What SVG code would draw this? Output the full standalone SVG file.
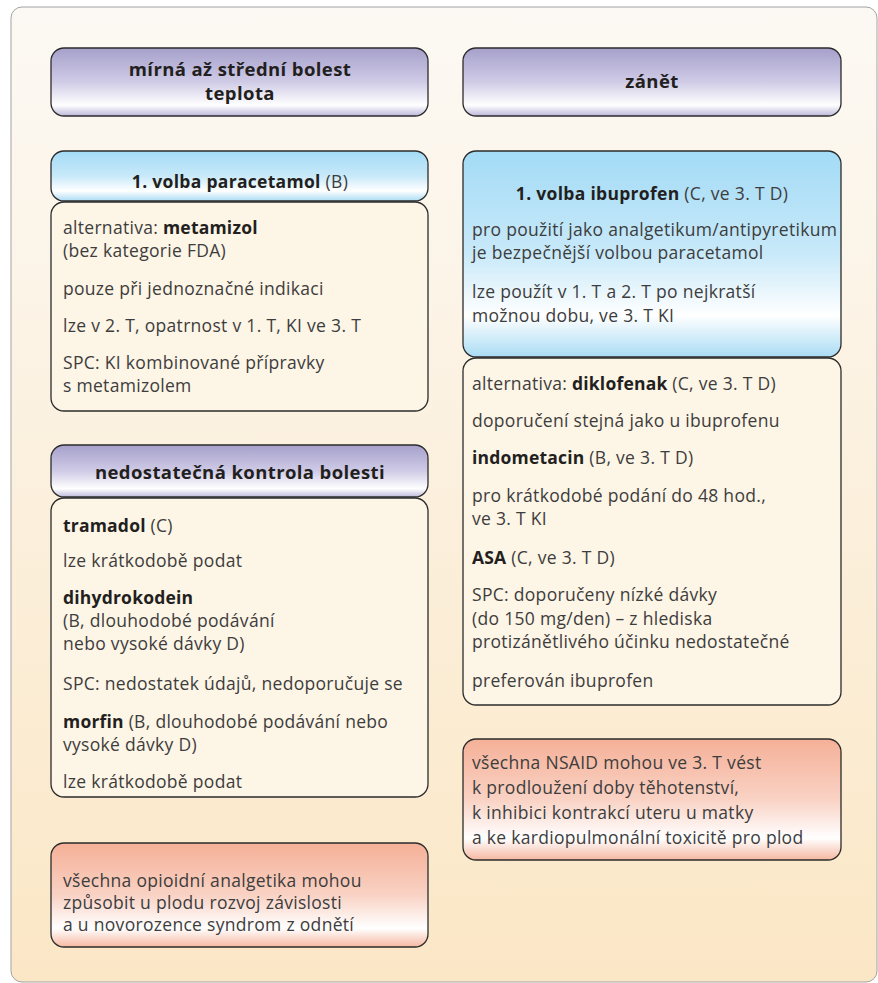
<svg xmlns="http://www.w3.org/2000/svg" width="878" height="983" viewBox="0 0 878 983">
<defs>
<linearGradient id="gBg" x1="0" y1="0" x2="0" y2="1">
<stop offset="0" stop-color="#fcf9f4"/><stop offset="1" stop-color="#fbe7c6"/>
</linearGradient>
<linearGradient id="gPur" x1="0" y1="0" x2="0" y2="1">
<stop offset="0" stop-color="#a6a0cb"/><stop offset="0.5" stop-color="#cfcbe6"/><stop offset="0.84" stop-color="#ffffff"/><stop offset="1" stop-color="#bdb8da"/>
</linearGradient>
<linearGradient id="gBlue" x1="0" y1="0" x2="0" y2="1">
<stop offset="0" stop-color="#a3dbf6"/><stop offset="0.5" stop-color="#c8e9f9"/><stop offset="0.8" stop-color="#ffffff"/><stop offset="1" stop-color="#a9dcf4"/>
</linearGradient>
<linearGradient id="gRed" x1="0" y1="0" x2="0" y2="1">
<stop offset="0" stop-color="#f5b097"/><stop offset="0.5" stop-color="#f9d2c4"/><stop offset="0.82" stop-color="#ffffff"/><stop offset="1" stop-color="#f6b8a1"/>
</linearGradient>
</defs>
<style>
.box{stroke:#2b2b2b;stroke-width:1.3}
.body{fill:#fdf5e6}
.t{font-family:"Open Sans","Noto Sans",sans-serif;font-size:17.5px;fill:#3d3d3d;letter-spacing:0.3px}
.b{font-weight:700;fill:#231f20;letter-spacing:0.2px}
.h{font-family:"Open Sans","Noto Sans",sans-serif;font-size:18.5px;font-weight:700;fill:#231f20;text-anchor:middle;letter-spacing:0.4px}
.hb{font-family:"Open Sans","Noto Sans",sans-serif;font-size:17.5px;font-weight:700;fill:#231f20;text-anchor:middle;letter-spacing:0.3px}
.n{font-weight:400;fill:#3d3d3d}
</style>
<rect id="frame" x="11" y="7" width="866" height="975" rx="11" fill="url(#gBg)" stroke="#a3a3a3" stroke-width="1"/>
<g id="connectors"/>

<g id="hdr-left">
<rect class="box" x="51" y="48" width="377" height="68" rx="13" fill="url(#gPur)"/>
<text class="h" x="240" y="76">mírná až střední bolest</text>
<text class="h" x="240" y="100">teplota</text>
</g>

<g id="hdr-right">
<rect class="box" x="463" y="48" width="378" height="68" rx="13" fill="url(#gPur)"/>
<text class="h" x="652" y="88">zánět</text>
</g>

<g id="paracetamol">
<rect class="box" x="51" y="151" width="377" height="50" rx="13" fill="url(#gBlue)"/>
<text class="hb" x="240" y="188">1. volba paracetamol <tspan class="n">(B)</tspan></text>
</g>

<g id="metamizol">
<rect class="box body" x="51" y="202" width="377" height="209" rx="13"/>
<text class="t" x="63" y="234">alternativa: <tspan class="b">metamizol</tspan></text>
<text class="t" x="63" y="257">(bez kategorie FDA)</text>
<text class="t" x="63" y="295">pouze při jednoznačné indikaci</text>
<text class="t" x="63" y="332">lze v 2. T, opatrnost v 1. T, KI ve 3. T</text>
<text class="t" x="63" y="369">SPC: KI kombinované přípravky</text>
<text class="t" x="63" y="392">s metamizolem</text>
</g>

<g id="hdr-nedostatecna">
<rect class="box" x="51" y="445" width="377" height="52" rx="13" fill="url(#gPur)"/>
<text class="h" x="240" y="479">nedostatečná kontrola bolesti</text>
</g>

<g id="opioidy">
<rect class="box body" x="51" y="498" width="377" height="299" rx="13"/>
<text class="t" x="63" y="532"><tspan class="b">tramadol</tspan> (C)</text>
<text class="t" x="63" y="567">lze krátkodobě podat</text>
<text class="t" x="63" y="604"><tspan class="b">dihydrokodein</tspan></text>
<text class="t" x="63" y="627">(B, dlouhodobé podávání</text>
<text class="t" x="63" y="650">nebo vysoké dávky D)</text>
<text class="t" x="63" y="690">SPC: nedostatek údajů, nedoporučuje se</text>
<text class="t" x="63" y="728"><tspan class="b">morfin</tspan> (B, dlouhodobé podávání nebo</text>
<text class="t" x="63" y="751">vysoké dávky D)</text>
<text class="t" x="63" y="788">lze krátkodobě podat</text>
</g>

<g id="warn-opioidy">
<rect class="box" x="51" y="843" width="377" height="104" rx="13" fill="url(#gRed)"/>
<text class="t" x="63" y="887">všechna opioidní analgetika mohou</text>
<text class="t" x="63" y="909">způsobit u plodu rozvoj závislosti</text>
<text class="t" x="63" y="931">a u novorozence syndrom z odnětí</text>
</g>

<g id="ibuprofen">
<rect class="box" x="463" y="151" width="378" height="206" rx="13" fill="url(#gBlue)"/>
<text class="hb" x="652" y="200">1. volba ibuprofen <tspan class="n">(C, ve 3. T D)</tspan></text>
<text class="t" x="472" y="236">pro použití jako analgetikum/antipyretikum</text>
<text class="t" x="472" y="259">je bezpečnější volbou paracetamol</text>
<text class="t" x="472" y="298">lze použít v 1. T a 2. T po nejkratší</text>
<text class="t" x="472" y="322">možnou dobu, ve 3. T KI</text>
</g>

<g id="nsaid-alt">
<rect class="box body" x="463" y="358" width="378" height="347" rx="13"/>
<text class="t" x="472" y="390">alternativa: <tspan class="b">diklofenak</tspan> (C, ve 3. T D)</text>
<text class="t" x="472" y="427">doporučení stejná jako u ibuprofenu</text>
<text class="t" x="472" y="464"><tspan class="b">indometacin</tspan> (B, ve 3. T D)</text>
<text class="t" x="472" y="502">pro krátkodobé podání do 48 hod.,</text>
<text class="t" x="472" y="525">ve 3. T KI</text>
<text class="t" x="472" y="564"><tspan class="b">ASA</tspan> (C, ve 3. T D)</text>
<text class="t" x="472" y="601">SPC: doporučeny nízké dávky</text>
<text class="t" x="472" y="625">(do 150 mg/den) – z hlediska</text>
<text class="t" x="472" y="648">protizánětlivého účinku nedostatečné</text>
<text class="t" x="472" y="687">preferován ibuprofen</text>
</g>

<g id="warn-nsaid">
<rect class="box" x="463" y="739" width="378" height="121" rx="13" fill="url(#gRed)"/>
<text class="t" x="472" y="769">všechna NSAID mohou ve 3. T vést</text>
<text class="t" x="472" y="794">k prodloužení doby těhotenství,</text>
<text class="t" x="472" y="819">k inhibici kontrakcí uteru u matky</text>
<text class="t" x="472" y="844">a ke kardiopulmonální toxicitě pro plod</text>
</g>
</svg>
